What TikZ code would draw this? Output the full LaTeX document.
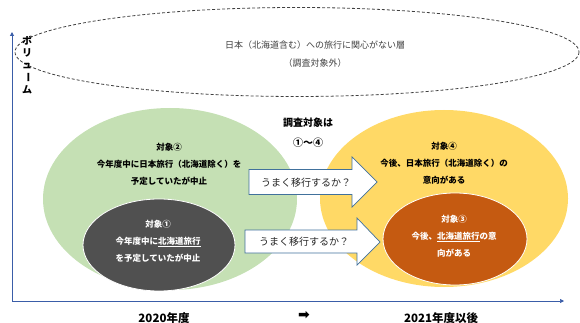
\documentclass[tikz,border=0pt]{standalone}
\usepackage{fontspec}
\setmainfont{Noto Sans CJK JP}
\newfontfamily\symfont{DejaVu Sans}
\usetikzlibrary{arrows.meta}
\definecolor{axisblue}{HTML}{3A5DA8}
\definecolor{lgreen}{HTML}{C5E0B4}
\definecolor{dgray}{HTML}{505050}
\definecolor{gold}{HTML}{FFD966}
\definecolor{rust}{HTML}{C55A11}
\definecolor{arrowline}{HTML}{41719C}
\definecolor{txtgray}{HTML}{404040}
\tikzset{
  bodytxt/.style={align=center, font=\bfseries\fontsize{8.5}{17}\selectfont, inner sep=0pt},
  blockarrow/.style={draw=arrowline, fill=white, line width=0.7pt, line join=miter},
  arrowtxt/.style={font=\fontsize{10}{12}\selectfont, text=black!85, inner sep=0pt},
  yeartxt/.style={font=\bfseries\fontsize{11.5}{12}\selectfont, inner sep=0pt},
  vchar/.style={font=\bfseries\fontsize{10}{10}\selectfont, inner sep=0pt},
}
\begin{document}
\begin{tikzpicture}[x=1pt,y=-1pt]
\useasboundingbox (0,0) rectangle (580,323);
% axes
\coordinate (origin) at (12,301);
\coordinate (ytip) at (12,32);
\coordinate (xtip) at (564,301);
\draw[axisblue, line width=0.9pt, -{Triangle[length=4pt,width=4pt]}] (origin) -- (ytip);
\draw[axisblue, line width=0.7pt, -{Triangle[length=4pt,width=4pt]}] (origin) -- (xtip);
% dashed ellipse
\draw[txtgray, line width=0.8pt, dash pattern=on 3pt off 2pt] (297,52) ellipse [x radius=282, y radius=44.5];
\node[align=center, text=txtgray, font=\fontsize{9}{18}\selectfont, inner sep=0pt] (outside) at (315,54) {日本（北海道含む）への旅行に関心がない層\\（調査対象外）};
% vertical label
\node[vchar] (v1) at (27,41) {ボ};
\node[vchar] (v2) at (27,53) {リ};
\node[vchar] (v3) at (27,66) {ュ};
\node[vchar, rotate=-90] (v4) at (27,78) {ー};
\node[vchar] (v5) at (27,90) {ム};
% green ellipse
\fill[lgreen] (170,199) ellipse [x radius=127, y radius=91];
\filldraw[fill=dgray, draw=white, line width=0.8pt] (159,245) ellipse [x radius=76, y radius=46];
\node[bodytxt] (t2) at (169,164) {対象②\\今年度中に日本旅行（北海道除く）を\\予定していたが中止};
\node[bodytxt, text=white] (t1) at (158,241) {対象①\\今年度中に\underline{北海道旅行}\\を予定していたが中止};
% yellow ellipse
\fill[gold] (444,198.5) ellipse [x radius=124, y radius=88.5];
\filldraw[fill=rust, draw=white, line width=0.8pt] (455,239) ellipse [x radius=72, y radius=46];
\node[bodytxt] (t4) at (444,163.5) {対象④\\今後、日本旅行（北海道除く）の\\意向がある};
\node[bodytxt, text=white] (t3) at (454,236) {対象③\\今後、\underline{北海道旅行}の意\\向がある};
% center text
\node[align=center, font=\bfseries\fontsize{10}{20}\selectfont, inner sep=0pt] (scope) at (308,133) {調査対象は\\①～④};
% block arrows
\draw[blockarrow] (249,169.5) -- (352,169.5) -- (352,157) -- (377,182) -- (352,207) -- (352,194.5) -- (249,194.5) -- cycle;
\node[arrowtxt] (a1) at (306,183) {うまく移行するか？};
\draw[blockarrow] (245,230) -- (357,230) -- (357,218) -- (380,242) -- (357,265) -- (357,253) -- (245,253) -- cycle;
\node[arrowtxt] (a2) at (304,242) {うまく移行するか？};
% bottom labels
\node[yeartxt] (y1) at (164,318) {2020年度};
\node[font=\symfont\bfseries\fontsize{14}{14}\selectfont, inner sep=0pt] (mid) at (304,315) {➡};
\node[yeartxt] (y2) at (441,318) {2021年度以後};
\end{tikzpicture}
\end{document}
